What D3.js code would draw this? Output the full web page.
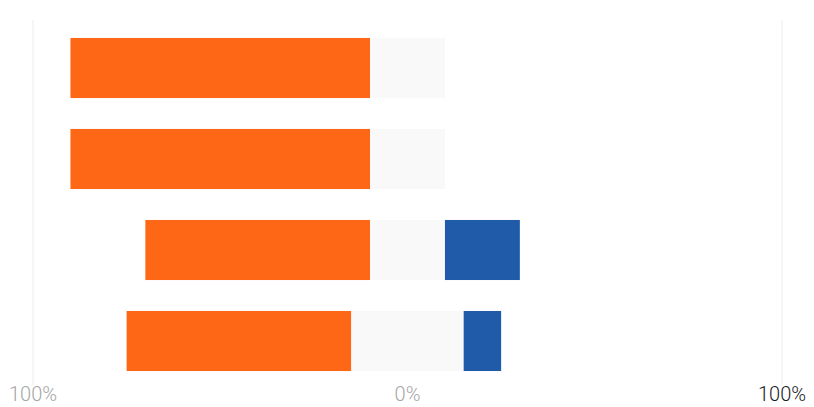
<!DOCTYPE html>
<html>
<head>
<meta charset="utf-8">
<script src="https://cdn.jsdelivr.net/npm/d3@7"></script>
<style>
  body { margin: 0; background: #fff; }
  .tick-label { font-family: Roboto, "Open Sans", sans-serif; font-weight: 300; font-size: 20px; }
</style>
</head>
<body>
<div id="chart"></div>
<script>
// rows, top to bottom
var categories = ["Item 1", "Item 2", "Item 3", "Item 4"];
// percentages per row
var negative = [80, 80, 60, 60];
var neutral  = [20, 20, 20, 30];
var positive = [0, 0, 20, 10];
var tickValues = [-100, 0, 100];
var tickLabels = ["100%", "0%", "100%"];

var width = 814, height = 407;

var svg = d3.select("#chart").append("svg")
    .attr("width", width)
    .attr("height", height);

var x = d3.scaleLinear().domain([-100, 100]).range([33, 782]);
var y = d3.scaleBand().domain(categories).range([22.5, 386.5]).paddingInner(0.34).paddingOuter(0.17);

// faint gridlines at the ends only
svg.append("g").selectAll("line")
    .data([-100, 100])
    .enter().append("line")
    .attr("x1", function(d) { return x(d); })
    .attr("x2", function(d) { return x(d); })
    .attr("y1", 20)
    .attr("y2", 386)
    .attr("stroke", "#f6f6f6")
    .attr("stroke-width", 2);

var rows = categories.map(function(c, i) {
  return {cat: c, neg: negative[i], neu: neutral[i], pos: positive[i]};
});

// neutral split evenly around 0
var g = svg.append("g");

g.selectAll(".neg").data(rows).enter().append("rect")
    .attr("class", "neg")
    .attr("x", function(d) { return x(-d.neu / 2 - d.neg); })
    .attr("y", function(d) { return y(d.cat); })
    .attr("width", function(d) { return x(-d.neu / 2) - x(-d.neu / 2 - d.neg); })
    .attr("height", y.bandwidth())
    .attr("fill", "#fd6716");

g.selectAll(".neu").data(rows).enter().append("rect")
    .attr("class", "neu")
    .attr("x", function(d) { return x(-d.neu / 2); })
    .attr("y", function(d) { return y(d.cat); })
    .attr("width", function(d) { return x(d.neu / 2) - x(-d.neu / 2); })
    .attr("height", y.bandwidth())
    .attr("fill", "#f9f9f9");

g.selectAll(".pos").data(rows.filter(function(d) { return d.pos > 0; })).enter().append("rect")
    .attr("class", "pos")
    .attr("x", function(d) { return x(d.neu / 2); })
    .attr("y", function(d) { return y(d.cat); })
    .attr("width", function(d) { return x(d.neu / 2 + d.pos) - x(d.neu / 2); })
    .attr("height", y.bandwidth())
    .attr("fill", "#1f5ba8");

// axis labels
svg.append("g").selectAll("text")
    .data(tickValues)
    .enter().append("text")
    .attr("class", "tick-label")
    .attr("x", function(d) { return x(d); })
    .attr("y", 401)
    .attr("text-anchor", "middle")
    .attr("fill", function(d, i) { return i == 2 ? "#1a1a1a" : "#a6a6a6"; })
    .text(function(d, i) { return tickLabels[i]; });
</script>
</body>
</html>
